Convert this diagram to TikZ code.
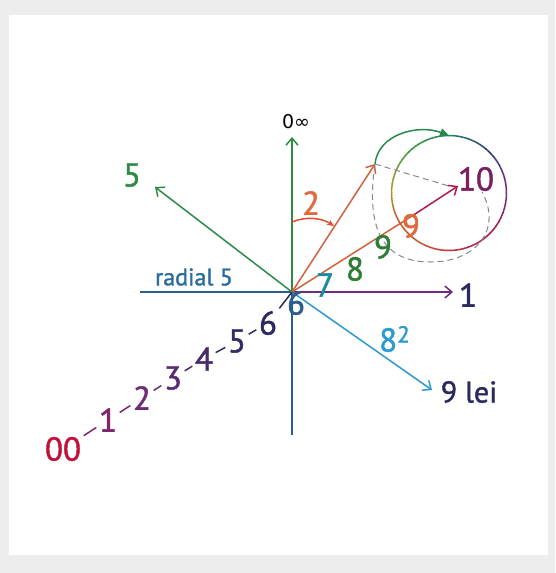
\documentclass[tikz,border=0pt]{standalone}
\usepackage{fontspec}
\setmainfont{PT Sans}
\newfontfamily\heavy[FakeBold=1.4]{PT Sans}
\newfontfamily\symfont{DejaVu Sans}
\usetikzlibrary{arrows.meta}
\definecolor{cgreen}{HTML}{2E8B44}
\definecolor{cblue}{HTML}{2A5E8C}
\definecolor{cradial}{HTML}{2A6E9E}
\definecolor{cpurple}{HTML}{6A2D7A}
\definecolor{cnavy}{HTML}{2A2A5E}
\definecolor{corange}{HTML}{D4603A}
\definecolor{corlab}{HTML}{E06A40}
\definecolor{ccrimson}{HTML}{B0184A}
\definecolor{cgreenlab}{HTML}{2E7E36}
\definecolor{cteal}{HTML}{1E8A9E}
\definecolor{csky}{HTML}{2A9AD0}
\definecolor{cten}{HTML}{7A2060}
\definecolor{cdash}{HTML}{8C8494}
\definecolor{cA}{HTML}{B09A30}
\definecolor{cB}{HTML}{3A9A40}
\definecolor{cC}{HTML}{2A8060}
\definecolor{cD}{HTML}{2A4080}
\definecolor{cE}{HTML}{6A3080}
\definecolor{cF}{HTML}{A02050}
\definecolor{cG}{HTML}{B83040}
\definecolor{cH}{HTML}{C85A30}
\begin{document}
\begin{tikzpicture}[x=1pt,y=-1pt,
  ln/.style={line width=1.5pt},
  arr/.style={ln,-{Straight Barb[length=7pt,width=12pt]}},
  big/.style={font=\heavy\fontsize{33}{36}\selectfont, inner sep=0pt},
  midlab/.style={font=\heavy\fontsize{30}{32}\selectfont, inner sep=0pt},
  smalllab/.style={font=\heavy\fontsize{24}{26}\selectfont, inner sep=0pt},
  chain/.style={font=\heavy\fontsize{33}{36}\selectfont, inner sep=2.5pt},
  dsh/.style={cdash, line width=1pt, dash pattern=on 6pt off 4pt},
]
\fill[black!7] (0,0) rectangle (555,573);
\fill[white] (9,15) rectangle (548,555);
\useasboundingbox (0,0) rectangle (555,573);

% key points
\coordinate (O) at (292,292);
\coordinate (up) at (292,137);
\coordinate (down) at (292,435);
\coordinate (left) at (140,292);
\coordinate (right) at (453,292);
\coordinate (ul) at (155,187);
\coordinate (t2) at (375,164);
\coordinate (m10) at (412,216);
\coordinate (t10) at (458,186);
\coordinate (tl) at (432,390);
\coordinate (c) at (449,193);
\coordinate (a1) at (292,222);
\coordinate (a2) at (334,226);
\coordinate (circtop) at (449,135.5);
\coordinate (d1) at (430,262);
\coordinate (d2) at (482,192);
\coordinate (dl) at (452,187);

% axes
\draw[ln,cblue] (O) -- (down);
\draw[ln,cblue] (left) -- (O);
\draw[arr,cgreen] (O) -- (up);
\draw[arr,cpurple] (O) -- (right);
\draw[arr,cgreen] (O) -- (ul);
\draw[arr,csky] (O) -- (tl);
\draw[arr,corange] (O) -- (t2);
\draw[ln,corange] (O) -- (m10);
\draw[arr,ccrimson] (m10) -- (t10);

% angle arc
\draw[ln,corange!80!red,-{Stealth[length=7pt,width=6pt]}] (a1) .. controls (306,216) and (322,218) .. (a2);

% gradient circle
\foreach \a/\aend/\ca/\cb in {150/180/cH/cA,180/225/cA/cB,225/270/cB/cC,270/310/cC/cD,310/345/cD/cE,345/395/cE/cF,395/440/cF/cG,440/480/cG/cH,480/510/cH/cH}{
  \foreach \i in {0,...,9}{
    \pgfmathsetmacro{\sa}{\a+(\aend-\a)*\i/10}
    \pgfmathsetmacro{\ea}{\a+(\aend-\a)*(\i+1)/10+0.5}
    \pgfmathsetmacro{\p}{100-\i*10}
    \draw[line width=1.5pt,color=\ca!\p!\cb] (c) ++(\sa:57.5) arc[start angle=\sa, end angle=\ea, radius=57.5];
  }
}

% green top arc
\draw[ln,cgreen!85!teal,-{Triangle[length=9pt,width=8pt]}] (t2) .. controls (378,134) and (418,124) .. (circtop);

% dashed
\draw[dsh] (t2) .. controls (366,225) and (380,262) .. (d1) .. controls (478,262) and (502,228) .. (d2);
\draw[dsh] (t2) -- (dl);

% labels
\node[font=\symfont\fontsize{19}{21}\selectfont, inner sep=0pt] (l0inf) at (296,122) {0∞};
\node[big,cgreen] (l5) at (132,175) {5};
\node[big,corlab] (l2) at (311,203) {2};
\node[big,cten] (l10) at (476,179) {10};
\node[big,corlab] (l9o) at (411,226) {9};
\node[big,cgreenlab] (l9g) at (383,247) {9};
\node[big,cgreenlab] (l8) at (355,269) {8};
\node[big,cteal] (l7) at (325,285) {7};
\node[big,cblue] (l6o) at (296,303) {6};
\node[big,cnavy] (l1) at (468,295) {1};
\node[big,csky,anchor=west] (l82) at (379,339) {8\textsuperscript{2}};
\node[midlab,cnavy] (llei) at (469,392) {9 lei};
\node[smalllab,cradial] (lrad) at (194,277) {radial 5};

% lower-left chain
\node[chain,color=cnavy] (n6) at (268,323) {6};
\node[chain,color=cnavy!85!cpurple] (n5) at (237,341) {5};
\node[chain,color=cnavy!55!cpurple] (n4) at (204,359) {4};
\node[chain,color=cnavy!30!cpurple] (n3) at (173,378) {3};
\node[chain,color=cpurple!90!ccrimson] (n2) at (142,398) {2};
\node[chain,color=cpurple!70!ccrimson] (n1) at (108,420) {1};
\node[chain,color=ccrimson!80!red] (n00) at (63,449) {00};
\draw[ln,cnavy] (O) -- (n6);
\draw[ln,cnavy] (n6) -- (n5);
\draw[ln,cnavy!70!cpurple] (n5) -- (n4);
\draw[ln,cnavy!40!cpurple] (n4) -- (n3);
\draw[ln,cpurple] (n3) -- (n2);
\draw[ln,cpurple!80!ccrimson] (n2) -- (n1);
\draw[ln,cpurple!60!ccrimson] (n1) -- (n00);
\end{tikzpicture}
\end{document}
